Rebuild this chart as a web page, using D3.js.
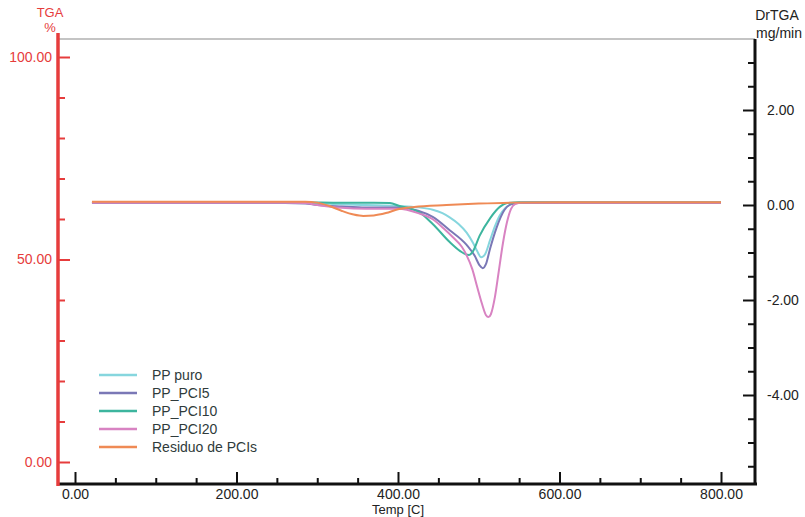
<!DOCTYPE html>
<html><head><meta charset="utf-8">
<script src="https://cdn.jsdelivr.net/npm/d3@7"></script>
<style>
html,body{margin:0;padding:0;background:#fff;}
text{font-family:Arial,"Liberation Sans",Helvetica,sans-serif;}
</style></head>
<body><svg id="c" width="805" height="517"></svg>
<script>
// ---- data (Temp °C, DrTGA mg/min) ----
const seriesNames = ["PP puro","PP_PCI5","PP_PCI10","PP_PCI20","Residuo de PCIs"];
const seriesColors = ["#86d6de","#7a78b6","#3db59e","#d883c2","#ef8a55"];

const ppPuroT = [21,100,200,260,290,320,360,400,425,443,455,464,475,485,493,498,503,508,514,520,526,533,540,548,560,580,650,720,800];
const ppPuroV = [0.06,0.06,0.06,0.06,0.05,0.02,0.0,-0.02,-0.05,-0.1,-0.17,-0.26,-0.4,-0.58,-0.8,-0.97,-1.1,-1.03,-0.74,-0.45,-0.22,-0.06,0.02,0.05,0.06,0.06,0.06,0.06,0.06];

const pci5T = [21,100,200,260,285,300,330,360,400,425,443,464,485,495,501,505,509,514,522,532,541,550,570,650,720,800];
const pci5V = [0.04,0.04,0.04,0.04,0.03,0.0,-0.03,-0.05,-0.05,-0.12,-0.25,-0.53,-0.84,-1.07,-1.27,-1.33,-1.24,-0.92,-0.48,-0.1,0.02,0.04,0.04,0.04,0.04,0.04];

const pci10T = [21,100,200,280,330,370,390,402,415,427,443,464,477,484,488,493,501,514,526,535,550,570,650,720,800];
const pci10V = [0.06,0.06,0.06,0.06,0.05,0.05,0.04,-0.02,-0.07,-0.16,-0.4,-0.78,-0.97,-1.04,-1.05,-0.97,-0.65,-0.28,-0.04,0.04,0.06,0.06,0.06,0.06,0.06];

const pci20T = [21,100,200,260,285,300,330,360,400,425,443,457,468,479,485,492,498,504,509,512,515,520,525,530,535,540,545,552,570,650,720,800];
const pci20V = [0.05,0.05,0.05,0.05,0.04,0.0,-0.06,-0.08,-0.08,-0.17,-0.3,-0.5,-0.68,-0.88,-1.06,-1.35,-1.72,-2.08,-2.32,-2.36,-2.3,-1.94,-1.37,-0.8,-0.36,-0.08,0.02,0.05,0.05,0.05,0.05,0.05];

const residuoT = [21,100,200,260,285,300,315,330,345,357,370,385,400,420,460,500,540,600,700,800];
const residuoV = [0.07,0.07,0.07,0.07,0.07,0.05,-0.02,-0.12,-0.2,-0.23,-0.22,-0.17,-0.09,-0.04,0.0,0.03,0.05,0.06,0.06,0.06];

const allT = [ppPuroT,pci5T,pci10T,pci20T,residuoT];
const allV = [ppPuroV,pci5V,pci10V,pci20V,residuoV];

const xTicks = [0,200,400,600,800];
const xMinor = [50,100,150,250,300,350,450,500,550,650,700,750];
const tgaTicks = [0,50,100];
const tgaMinor = [10,20,30,40,60,70,80,90];
const drTicks = [-4,-2,0,2];
const drMinor = [-5.5,-5,-4.5,-3.5,-3,-2.5,-1.5,-1,-0.5,0.5,1,1.5,2.5,3];

// ---- chart ----
const svg = d3.select("#c");
const red = "#e63c3c";
const fmt = d => d.toFixed(2);
const x = d3.scaleLinear().domain([0,800]).range([75,721]);
const yL = d3.scaleLinear().domain([0,100]).range([462,57]);
const yR = d3.scaleLinear().domain([0,2]).range([205,110]);
const L = 58, R = 755, T = 39, B = 484;

// top gray border
svg.append("line").attr("x1",L).attr("x2",R).attr("y1",T).attr("y2",T)
  .attr("stroke","#b0b0b0").attr("stroke-width",1.5);

// curves
const line = d3.line().x(d=>x(d[0])).y(d=>yR(d[1])).curve(d3.curveMonotoneX);
seriesNames.forEach((n,i)=>{
  const pts = allT[i].map((t,j)=>[t,allV[i][j]]);
  svg.append("path").attr("d",line(pts)).attr("fill","none")
    .attr("stroke",seriesColors[i]).attr("stroke-width",2);
});

// x axis
const gx = svg.append("g").attr("transform",`translate(0,${B})`);
gx.call(d3.axisBottom(x).tickValues(xTicks).tickSizeInner(-12).tickSizeOuter(0).tickPadding(5).tickFormat(fmt));
gx.append("g").call(d3.axisBottom(x).tickValues(xMinor).tickSizeInner(-6).tickSizeOuter(0).tickFormat(""));
gx.selectAll(".domain").remove();
gx.selectAll("line").attr("stroke","#111").attr("stroke-width",2);
gx.selectAll("text").attr("fill","#222").attr("font-size",14).attr("font-family","Arial,'Liberation Sans',sans-serif");
svg.append("line").attr("x1",L).attr("x2",R+2).attr("y1",B).attr("y2",B).attr("stroke","#111").attr("stroke-width",3);
svg.append("text").attr("x",398).attr("y",514).attr("text-anchor","middle").attr("font-size",13).attr("fill","#222").text("Temp [C]");

// left TGA axis
const gl = svg.append("g").attr("transform",`translate(${L},0)`);
gl.call(d3.axisLeft(yL).tickValues(tgaTicks).tickSizeInner(-12).tickSizeOuter(0).tickPadding(6).tickFormat(fmt));
gl.append("g").call(d3.axisLeft(yL).tickValues(tgaMinor).tickSizeInner(-7).tickSizeOuter(0).tickFormat(""));
gl.selectAll(".domain").remove();
gl.selectAll("line").attr("stroke",red).attr("stroke-width",2);
gl.selectAll("text").attr("fill",red).attr("font-size",14).attr("font-family","Arial,'Liberation Sans',sans-serif");
svg.append("line").attr("x1",L).attr("x2",L).attr("y1",33).attr("y2",B+2).attr("stroke",red).attr("stroke-width",3.5);
svg.append("text").attr("x",50).attr("y",17).attr("text-anchor","middle").attr("font-size",13).attr("fill",red).text("TGA");
svg.append("text").attr("x",50).attr("y",32).attr("text-anchor","middle").attr("font-size",13).attr("fill",red).text("%");

// right DrTGA axis
const gr = svg.append("g").attr("transform",`translate(${R},0)`);
gr.call(d3.axisRight(yR).tickValues(drTicks).tickSizeInner(-12).tickSizeOuter(0).tickPadding(12).tickFormat(fmt));
gr.append("g").call(d3.axisRight(yR).tickValues(drMinor).tickSizeInner(-7).tickSizeOuter(0).tickFormat(""));
gr.selectAll(".domain").remove();
gr.selectAll("line").attr("stroke","#111").attr("stroke-width",2);
gr.selectAll("text").attr("fill","#222").attr("font-size",14).attr("font-family","Arial,'Liberation Sans',sans-serif");
svg.append("line").attr("x1",R).attr("x2",R).attr("y1",T).attr("y2",B+1).attr("stroke","#111").attr("stroke-width",3);
svg.append("text").attr("x",777).attr("y",20).attr("text-anchor","middle").attr("font-size",14).attr("fill","#222").text("DrTGA");
svg.append("text").attr("x",779).attr("y",38).attr("text-anchor","middle").attr("font-size",14).attr("fill","#222").text("mg/min");

// legend
const lg = svg.append("g");
seriesNames.forEach((n,i)=>{
  const yy = 375 + i*18;
  lg.append("line").attr("x1",99).attr("x2",137).attr("y1",yy).attr("y2",yy)
    .attr("stroke",seriesColors[i]).attr("stroke-width",2.5);
  lg.append("text").attr("x",152).attr("y",yy+5).attr("font-size",14).attr("fill","#2f3b3b").text(n);
});
</script></body></html>
